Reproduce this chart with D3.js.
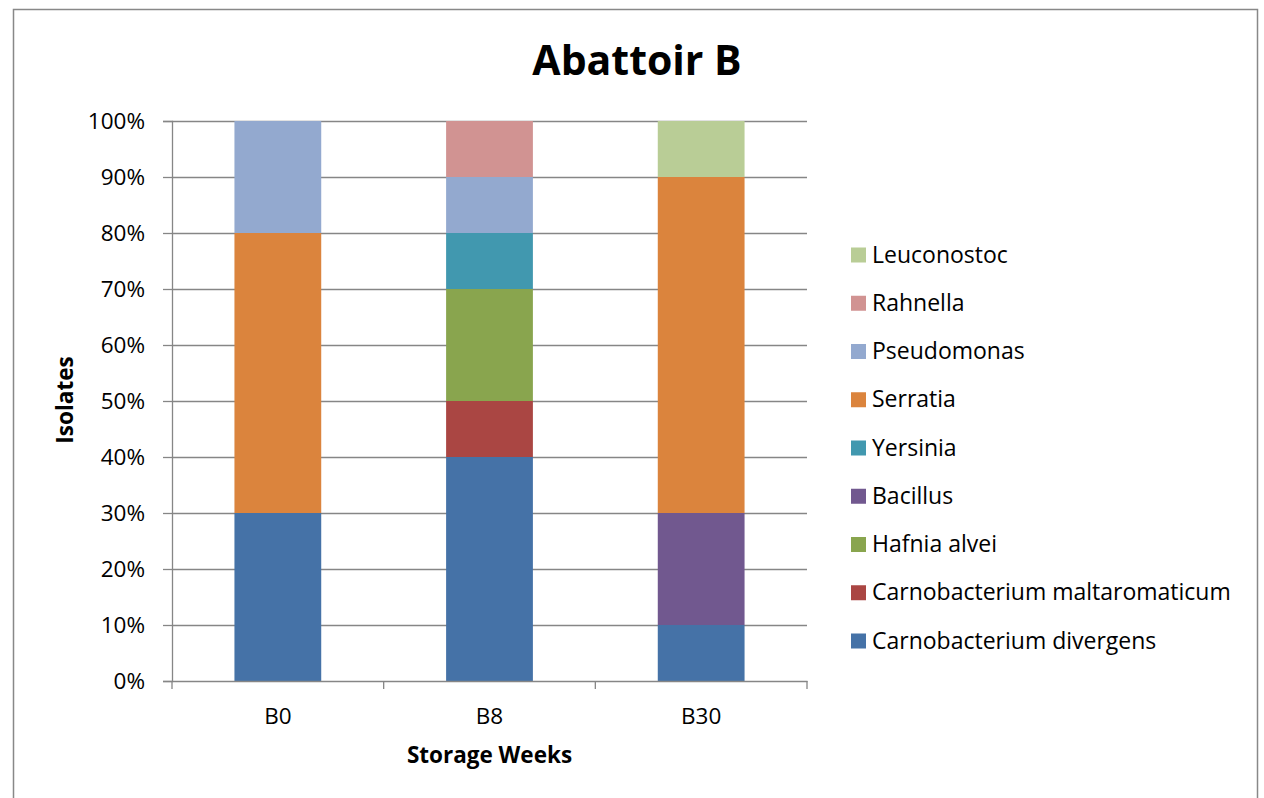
<!DOCTYPE html>
<html>
<head>
<meta charset="utf-8">
<script src="https://cdn.jsdelivr.net/npm/d3@7"></script>
<style>
  body { margin: 0; background: #fff; }
  text { font-family: "Open Sans", sans-serif; fill: #000; font-variant-ligatures: none; }
</style>
</head>
<body>
<div id="chart"></div>
<script>
var categories = ["B0", "B8", "B30"];
var seriesNames = ["Carnobacterium divergens", "Carnobacterium maltaromaticum", "Hafnia alvei",
    "Bacillus", "Yersinia", "Serratia", "Pseudomonas", "Rahnella", "Leuconostoc"];
var seriesColors = ["#4572A7", "#AA4643", "#89A54E", "#71588F", "#4198AF",
    "#DB843D", "#93A9CF", "#D19392", "#B9CD96"];
// percent of isolates per category, one array per series (B0, B8, B30)
var divergens = [30, 40, 10];
var maltaromaticum = [0, 10, 0];
var hafnia = [0, 20, 0];
var bacillus = [0, 0, 20];
var yersinia = [0, 10, 0];
var serratia = [50, 0, 60];
var pseudomonas = [20, 10, 0];
var rahnella = [0, 10, 0];
var leuconostoc = [0, 0, 10];
var yTicks = [0, 10, 20, 30, 40, 50, 60, 70, 80, 90, 100];

var seriesValues = [divergens, maltaromaticum, hafnia, bacillus, yersinia,
    serratia, pseudomonas, rahnella, leuconostoc];

var width = 1264, height = 798;
var margin = { left: 172, top: 121, right: 457, bottom: 117 };
var w = width - margin.left - margin.right;
var h = height - margin.top - margin.bottom;

var svg = d3.select("#chart").append("svg")
    .attr("width", width)
    .attr("height", height);

// outer chart border
svg.append("rect")
    .attr("x", 13.5).attr("y", 9.5)
    .attr("width", 1244).attr("height", 800)
    .attr("fill", "#fff")
    .attr("stroke", "#888").attr("stroke-width", 1.5);

var g = svg.append("g")
    .attr("transform", "translate(" + margin.left + "," + margin.top + ")");

var x = d3.scaleBand().domain(categories).range([0, w]).paddingInner(0.59).paddingOuter(0.295);
var xOuter = d3.scaleBand().domain(categories).range([0, w]);
var y = d3.scaleLinear().domain([0, 100]).range([h, 0]);

// gridlines
g.append("g")
    .selectAll("line")
    .data(yTicks.slice(1))
    .enter()
    .append("line")
    .attr("x1", 0).attr("x2", w)
    .attr("y1", function (d) { return Math.round(y(d)) + 0.5; })
    .attr("y2", function (d) { return Math.round(y(d)) + 0.5; })
    .attr("stroke", "#868686").attr("stroke-width", 1.3);

// stacked bars
var table = categories.map(function (c, i) {
    var row = { cat: c };
    seriesNames.forEach(function (s, j) { row[s] = seriesValues[j][i]; });
    return row;
});
var stack = d3.stack().keys(seriesNames)(table);

g.append("g")
    .selectAll("g")
    .data(stack)
    .enter()
    .append("g")
    .attr("fill", function (d, i) { return seriesColors[i]; })
    .selectAll("rect")
    .data(function (d) { return d; })
    .enter()
    .append("rect")
    .attr("x", function (d) { return x(d.data.cat); })
    .attr("width", x.bandwidth())
    .attr("y", function (d) { return y(d[1]); })
    .attr("height", function (d) { return y(d[0]) - y(d[1]); });

// y axis
var yAxis = g.append("g")
    .call(d3.axisLeft(y).tickValues(yTicks).tickSize(9).tickPadding(18)
        .tickFormat(function (d) { return d + "%"; }));
yAxis.selectAll("text").style("font-size", "22.5px").style("font-family", "'Open Sans', sans-serif");

// x axis
var xAxis = g.append("g")
    .attr("transform", "translate(0," + h + ")")
    .call(d3.axisBottom(xOuter).tickSize(0).tickPadding(27));
xAxis.selectAll("text").style("font-size", "22.5px").style("font-family", "'Open Sans', sans-serif");
xAxis.selectAll(".tick")
    .append("line")
    .attr("x1", -xOuter.bandwidth() / 2)
    .attr("x2", -xOuter.bandwidth() / 2)
    .attr("y1", 0).attr("y2", 8);
xAxis.append("line")
    .attr("x1", w).attr("x2", w).attr("y1", 0).attr("y2", 8);

svg.selectAll(".domain").attr("stroke", "#868686").attr("stroke-width", 1.3);
svg.selectAll(".tick line, g line").attr("stroke", "#868686").attr("stroke-width", 1.3);

// title
svg.append("text")
    .attr("x", 637)
    .attr("y", 75)
    .style("text-anchor", "middle")
    .style("font-size", "41px")
    .style("font-weight", "bold")
    .text("Abattoir B");

// axis titles
svg.append("text")
    .attr("x", margin.left + w / 2)
    .attr("y", 763)
    .style("text-anchor", "middle")
    .style("font-size", "22.5px")
    .style("font-weight", "bold")
    .text("Storage Weeks");

svg.append("text")
    .attr("transform", "rotate(-90)")
    .attr("x", -400)
    .attr("y", 73)
    .style("text-anchor", "middle")
    .style("font-size", "22.5px")
    .style("font-weight", "bold")
    .text("Isolates");

// legend (reverse order, top to bottom)
var legendItems = seriesNames.map(function (s, i) { return i; }).reverse();
var legend = svg.append("g")
    .attr("transform", "translate(851,247.5)");
var rows = legend.selectAll("g")
    .data(legendItems)
    .enter()
    .append("g")
    .attr("transform", function (d, i) { return "translate(0," + (i * 48.25) + ")"; });
rows.append("rect")
    .attr("width", 15).attr("height", 15)
    .attr("fill", function (d) { return seriesColors[d]; });
rows.append("text")
    .attr("x", 21)
    .attr("y", 15)
    .style("font-size", "23px")
    .text(function (d) { return seriesNames[d]; });
</script>
</body>
</html>
